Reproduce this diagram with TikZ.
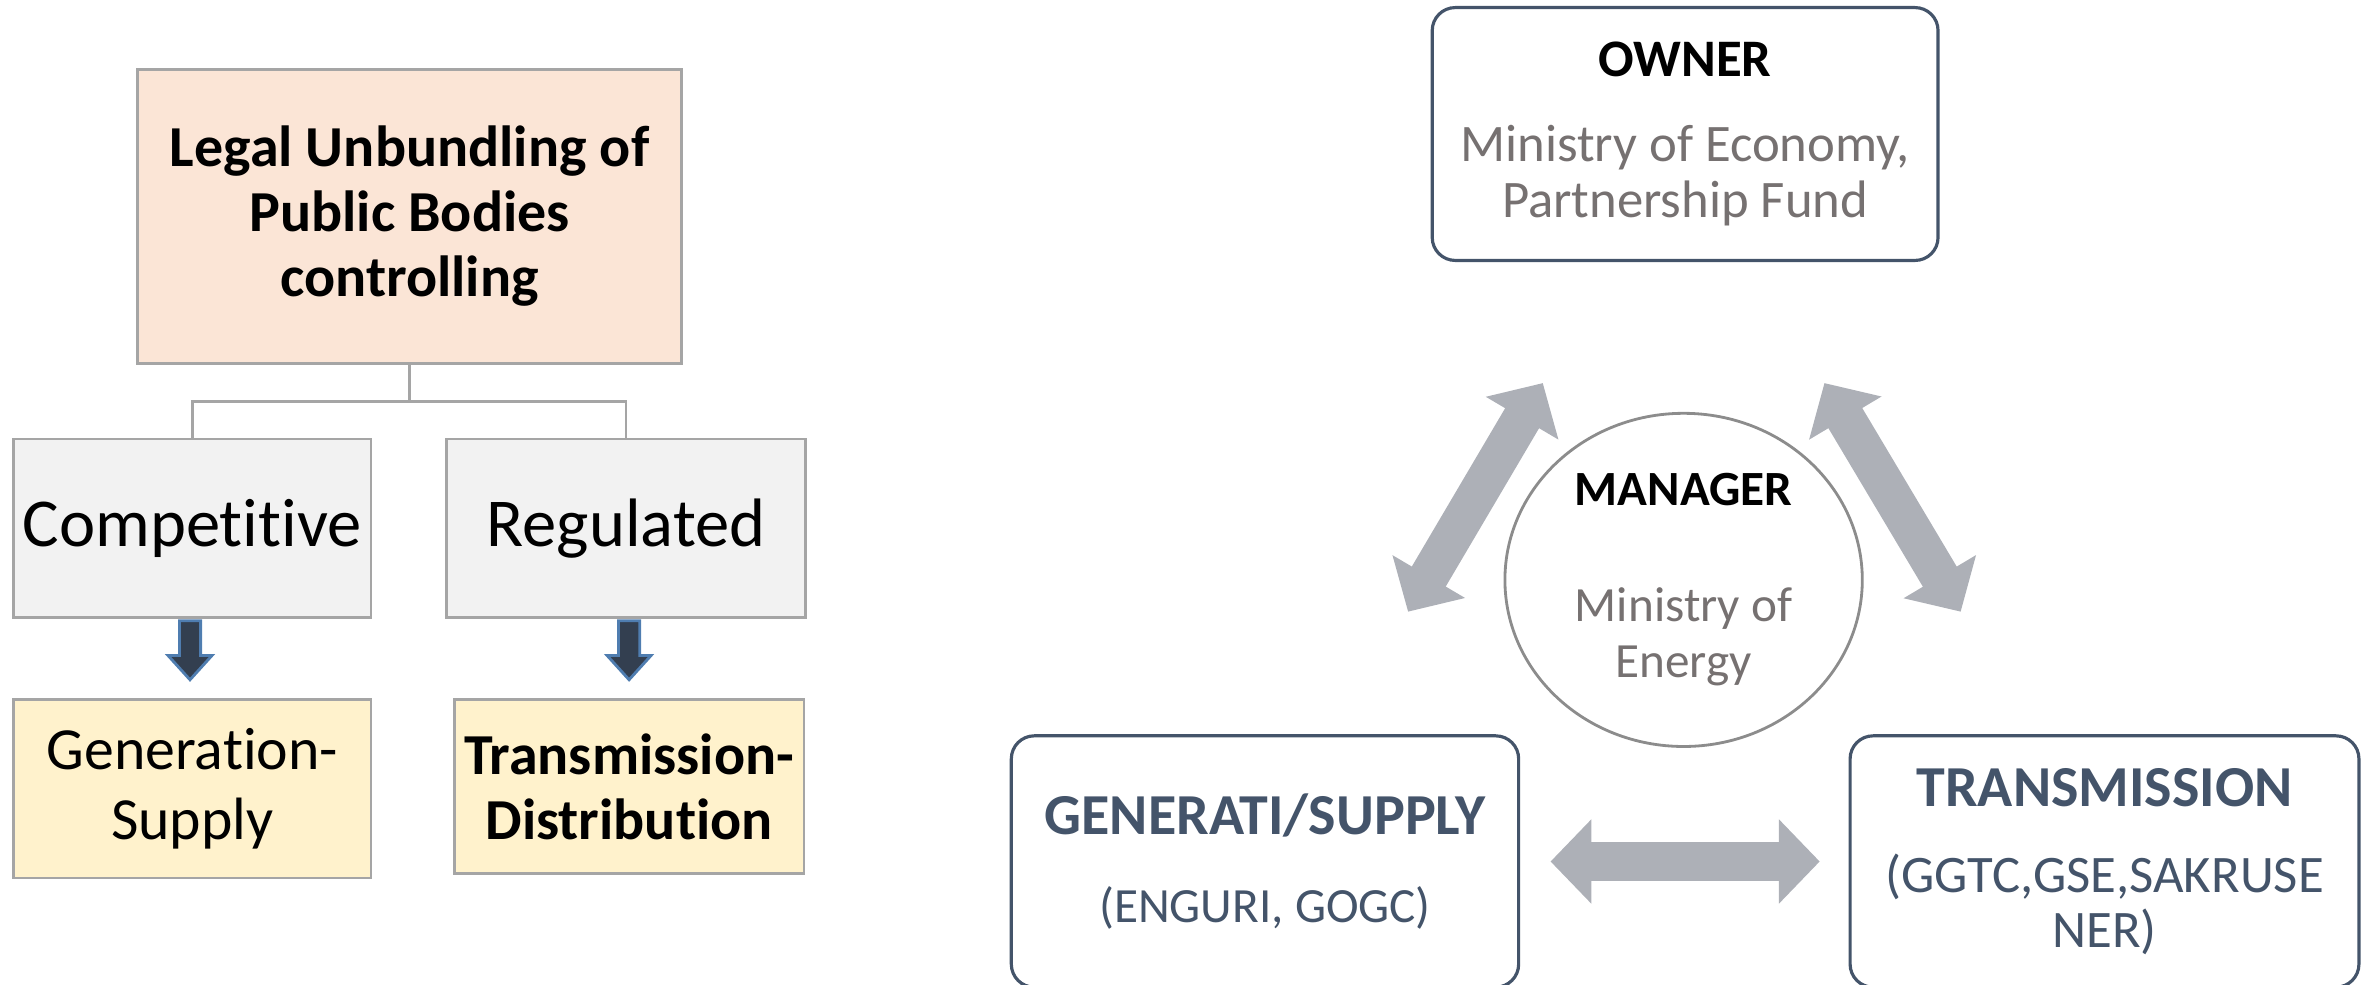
\documentclass[tikz,border=0pt]{standalone}
\usepackage{fontspec}
\setmainfont{Carlito}[Ligatures=NoCommon]
\usepackage{xcolor}
\usetikzlibrary{positioning,calc,arrows.meta,shapes.geometric}
\definecolor{peach}{HTML}{FBE5D6}
\definecolor{paleGray}{HTML}{F2F2F2}
\definecolor{paleYellow}{HTML}{FFF2CC}
\definecolor{boxGray}{HTML}{A5A5A5}
\definecolor{navy}{HTML}{333F50}
\definecolor{navyEdge}{HTML}{4F7DB0}
\definecolor{slate}{HTML}{44546A}
\definecolor{textGray}{HTML}{767171}
\definecolor{ringGray}{HTML}{8C8C8C}
\definecolor{arrowGray}{HTML}{ADB0B7}
\tikzstyle{flat box}=[
        draw = boxGray,
        line width = 0.8pt,
        minimum width = 3.573cm,
        minimum height = 1.787cm,
        inner sep = 0pt,
        align = center,
        rectangle
    ]
\tikzstyle{round box}=[
    draw = slate,
    line width = 0.9pt,
    rounded corners = 0.23cm,
    inner sep = 0pt,
    align = center,
    rectangle
]
\tikzstyle{big arrow}=[
    arrowGray,
    line width = 11.2pt,
    {Triangle[length=11.6pt, width=23.3pt]}-{Triangle[length=11.6pt, width=23.3pt]}
]

\begin{document}
\begin{tikzpicture}[x=0.01514cm, y=-0.01514cm, node distance={0.787cm},
    link/.style = {draw=boxGray, line width=0.8pt},
    down arrow/.style = {fill=navy, draw=navyEdge, line width=0.8pt}]
        \useasboundingbox (0,0) rectangle (1568,650);

        % left: unbundling
        \node[flat box, fill=peach, minimum width=5.435cm, minimum height=2.937cm,
            font=\fontsize{16.5}{18.5}\selectfont\bfseries] (legal) at (270.5,143)
            {Legal Unbundling of\\Public Bodies\\controlling};
        \node[flat box, fill=paleGray, font=\fontsize{19.5}{22}\selectfont] (comp) at (127,349) {Competitive};
        \node[flat box, fill=paleGray, minimum width=3.588cm, font=\fontsize{19.5}{22}\selectfont] (reg) at (413.5,349) {Regulated};
        \node[flat box, fill=paleYellow, font=\fontsize{17}{20}\selectfont] (gensup) [below = of comp] {Generation-\\Supply};
        \node[flat box, fill=paleYellow, minimum width=3.497cm, minimum height=1.741cm,
            font=\fontsize{16.5}{18.5}\selectfont\bfseries] (transdist) at (415.5,519.5) {Transmission-\\Distribution};

        \draw[link] (legal.south) -- ++(0,24) -| (comp.north);
        \draw[link] (legal.south) -- ++(0,24) -| (reg.north);

        \draw[down arrow] ($(comp.south)+(-8.5,1)$) -- ++(0,23) -- ++(-7.5,0) -- ++(14.5,16) -- ++(14.5,-16) -- ++(-7.5,0) -- ++(0,-23) -- cycle;
        \draw[down arrow] ($(reg.south)+(-5,1)$) -- ++(0,23) -- ++(-7.5,0) -- ++(14.5,16) -- ++(14.5,-16) -- ++(-7.5,0) -- ++(0,-23) -- cycle;

        % right: owner, manager, companies
        \node[round box, minimum width=5.057cm, minimum height=2.528cm, text=textGray,
            font=\fontsize{15}{16}\selectfont] (owner) at (1113,88.5)
            {\textcolor{black}{\bfseries OWNER}\\[8pt]Ministry of Economy,\\Partnership Fund};
        \node[draw=ringGray, line width=0.8pt, ellipse, inner sep=0pt, minimum width=3.573cm, minimum height=3.331cm,
            align=center, text=textGray, font=\fontsize{14}{16}\selectfont] (manager) at (1112,383)
            {\textcolor{black}{\bfseries MANAGER}\\[17pt]Ministry of\\Energy};
        \node[round box, minimum width=5.072cm, minimum height=2.513cm, text=slate,
            font=\fontsize{14}{16}\selectfont] (gen) at (835.5,569)
            {{\fontsize{16.5}{18}\selectfont\bfseries GENERATI/SUPPLY}\\[9pt](ENGURI, GOGC)};
        \node[round box, minimum width=5.087cm, minimum height=2.513cm, text=slate,
            font=\fontsize{15}{15.5}\selectfont] (trans) at (1390,569)
            {{\fontsize{16.5}{18}\selectfont\bfseries TRANSMISSION}\\[9pt](GGTC,GSE,SAKRUSE\\NER)};

        \coordinate (ownerleft) at (1019,253);
        \coordinate (genup) at (930,404);
        \coordinate (ownerright) at (1205,253);
        \coordinate (transup) at (1295,404);

        \draw[big arrow] (genup) -- (ownerleft);
        \draw[big arrow] (ownerright) -- (transup);
        \draw[big arrow, shorten <=0.303cm, shorten >=0.288cm] (gen) -- (trans);

    \end{tikzpicture}
\end{document}
